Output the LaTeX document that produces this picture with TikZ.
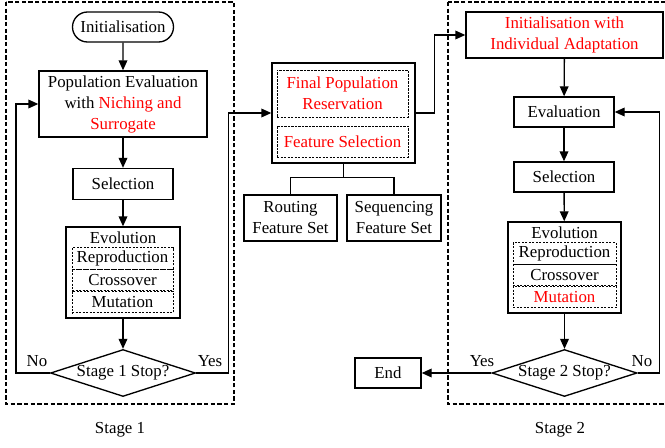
\documentclass[tikz,border=0pt]{standalone}
\usepackage{fontspec}
\setmainfont{Liberation Serif}
\usepackage{tikz}
\usepackage{xcolor}
\usetikzlibrary{arrows.meta,shapes.geometric,shapes.misc}

\begin{document}
\begin{tikzpicture}[x=0.6pt, y=-0.6pt,
		font=\fontsize{10.1}{12.6}\selectfont,
		box/.style={draw, line width=0.8pt, inner sep=0pt, align=center},
		subbox/.style={draw, dash pattern=on 1.3pt off 0.8pt, line width=0.6pt, inner sep=0pt, align=center, minimum width=60.6pt, minimum height=13pt},
		decision/.style={draw, line width=0.8pt, diamond, aspect=3, inner sep=0pt, minimum width=87pt, minimum height=28.2pt},
		arrow/.style={line width=0.8pt, -{Triangle[length=6pt,width=5.2pt]}},
		link/.style={line width=0.8pt},
		frame/.style={dash pattern=on 2.6pt off 1.4pt, line width=0.7pt}]
				\useasboundingbox (0,0) rectangle (665,447);
				
				% stage 1
				\draw[frame] (6,2) rectangle (234,404);
				\node (stageone) at (120,430) {Stage 1};
				
				\node[box, rounded rectangle, minimum width=60.6pt, minimum height=18pt] (init) at (123,27) {Initialisation};
				\node[box, minimum width=100.8pt, minimum height=39.6pt] (popeval) at (123,104) {Population Evaluation\\with \textcolor{red}{Niching and}\\\textcolor{red}{Surrogate}};
				\node[box, minimum width=60pt, minimum height=18.6pt] (selone) at (123,184) {Selection};
				\node[box, minimum width=68.4pt, minimum height=54.6pt] (evoone) at (123,272.5) {};
				\node (evoonetext) at (123,238) {Evolution};
				\node[subbox] (reprone) at (122.5,258.5) {Reproduction};
				\node[subbox] (crossone) at (122.5,280) {Crossover};
				\node[subbox] (mutone) at (122.5,302) {Mutation};
				\node[decision] (stopone) at (123,373) {Stage 1 Stop?};
				
				\draw[arrow] (init) -- (popeval);
				\draw[arrow] (popeval) -- (selone);
				\draw[arrow] (selone) -- (evoone);
				\draw[arrow] (evoone) -- (stopone);
				\draw[arrow] (stopone.west) -- ++(-34,0) |- (popeval.west);
				\node (noone) at (37,361) {No};
				\node (yesone) at (210,361) {Yes};
				
				% feature selection
				\node[box, minimum width=85.8pt, minimum height=60pt] (featbox) at (343.5,113) {};
				\node[subbox, minimum width=78.6pt, minimum height=28.2pt, text=red] (finalpop) at (342.5,93.5) {Final Population\\Reservation};
				\node[subbox, minimum width=78.6pt, minimum height=18.6pt, text=red] (featsel) at (342.5,141.5) {Feature Selection};
				\node[box, minimum width=55.8pt, minimum height=27.6pt] (routing) at (290.5,218) {Routing\\Feature Set};
				\node[box, minimum width=56.4pt, minimum height=27.6pt] (sequencing) at (394,218) {Sequencing\\Feature Set};
				
				\draw[arrow] (stopone.east) -- ++(32,0) |- (featbox.west);
				\draw[link] (featbox.south) -- ++(0,14) -| (routing.north);
				\draw[link] (featbox.south) -- ++(0,14) -| (sequencing.north);
				
				% stage 2
				\draw[frame] (448,2) rectangle (668,404);
				\node (stagetwo) at (560,430) {Stage 2};
				
				\node[box, minimum width=118.2pt, minimum height=27.6pt, text=red] (inittwo) at (564.5,35) {Initialisation with\\Individual Adaptation};
				\node[box, minimum width=60pt, minimum height=18pt] (evaltwo) at (564,112) {Evaluation};
				\node[box, minimum width=60pt, minimum height=18pt] (seltwo) at (564,177) {Selection};
				\node[box, minimum width=67.8pt, minimum height=54.6pt] (evotwo) at (564.5,267.5) {};
				\node (evotwotext) at (564.5,233) {Evolution};
				\node[subbox, minimum width=61.8pt] (reprtwo) at (564.5,253.5) {Reproduction};
				\node[subbox, minimum width=61.8pt] (crosstwo) at (564.5,275) {Crossover};
				\node[subbox, minimum width=61.8pt, text=red] (muttwo) at (564.5,297) {Mutation};
				\node[decision] (stoptwo) at (564.5,373) {Stage 2 Stop?};
				\node[box, minimum width=39.6pt, minimum height=18pt] (end) at (388,373) {End};
				
				\draw[arrow] (featbox.east) -- ++(19,0) |- (inittwo.west);
				\draw[arrow] (inittwo) -- (evaltwo);
				\draw[arrow] (evaltwo) -- (seltwo);
				\draw[arrow] (seltwo) -- (evotwo);
				\draw[arrow] (evotwo) -- (stoptwo);
				\draw[arrow] (stoptwo.east) -- ++(22,0) |- (evaltwo.east);
				\draw[arrow] (stoptwo.west) -- (end.east);
				\node (yestwo) at (482,361) {Yes};
				\node (notwo) at (642,361) {No};
			\end{tikzpicture}
\end{document}
